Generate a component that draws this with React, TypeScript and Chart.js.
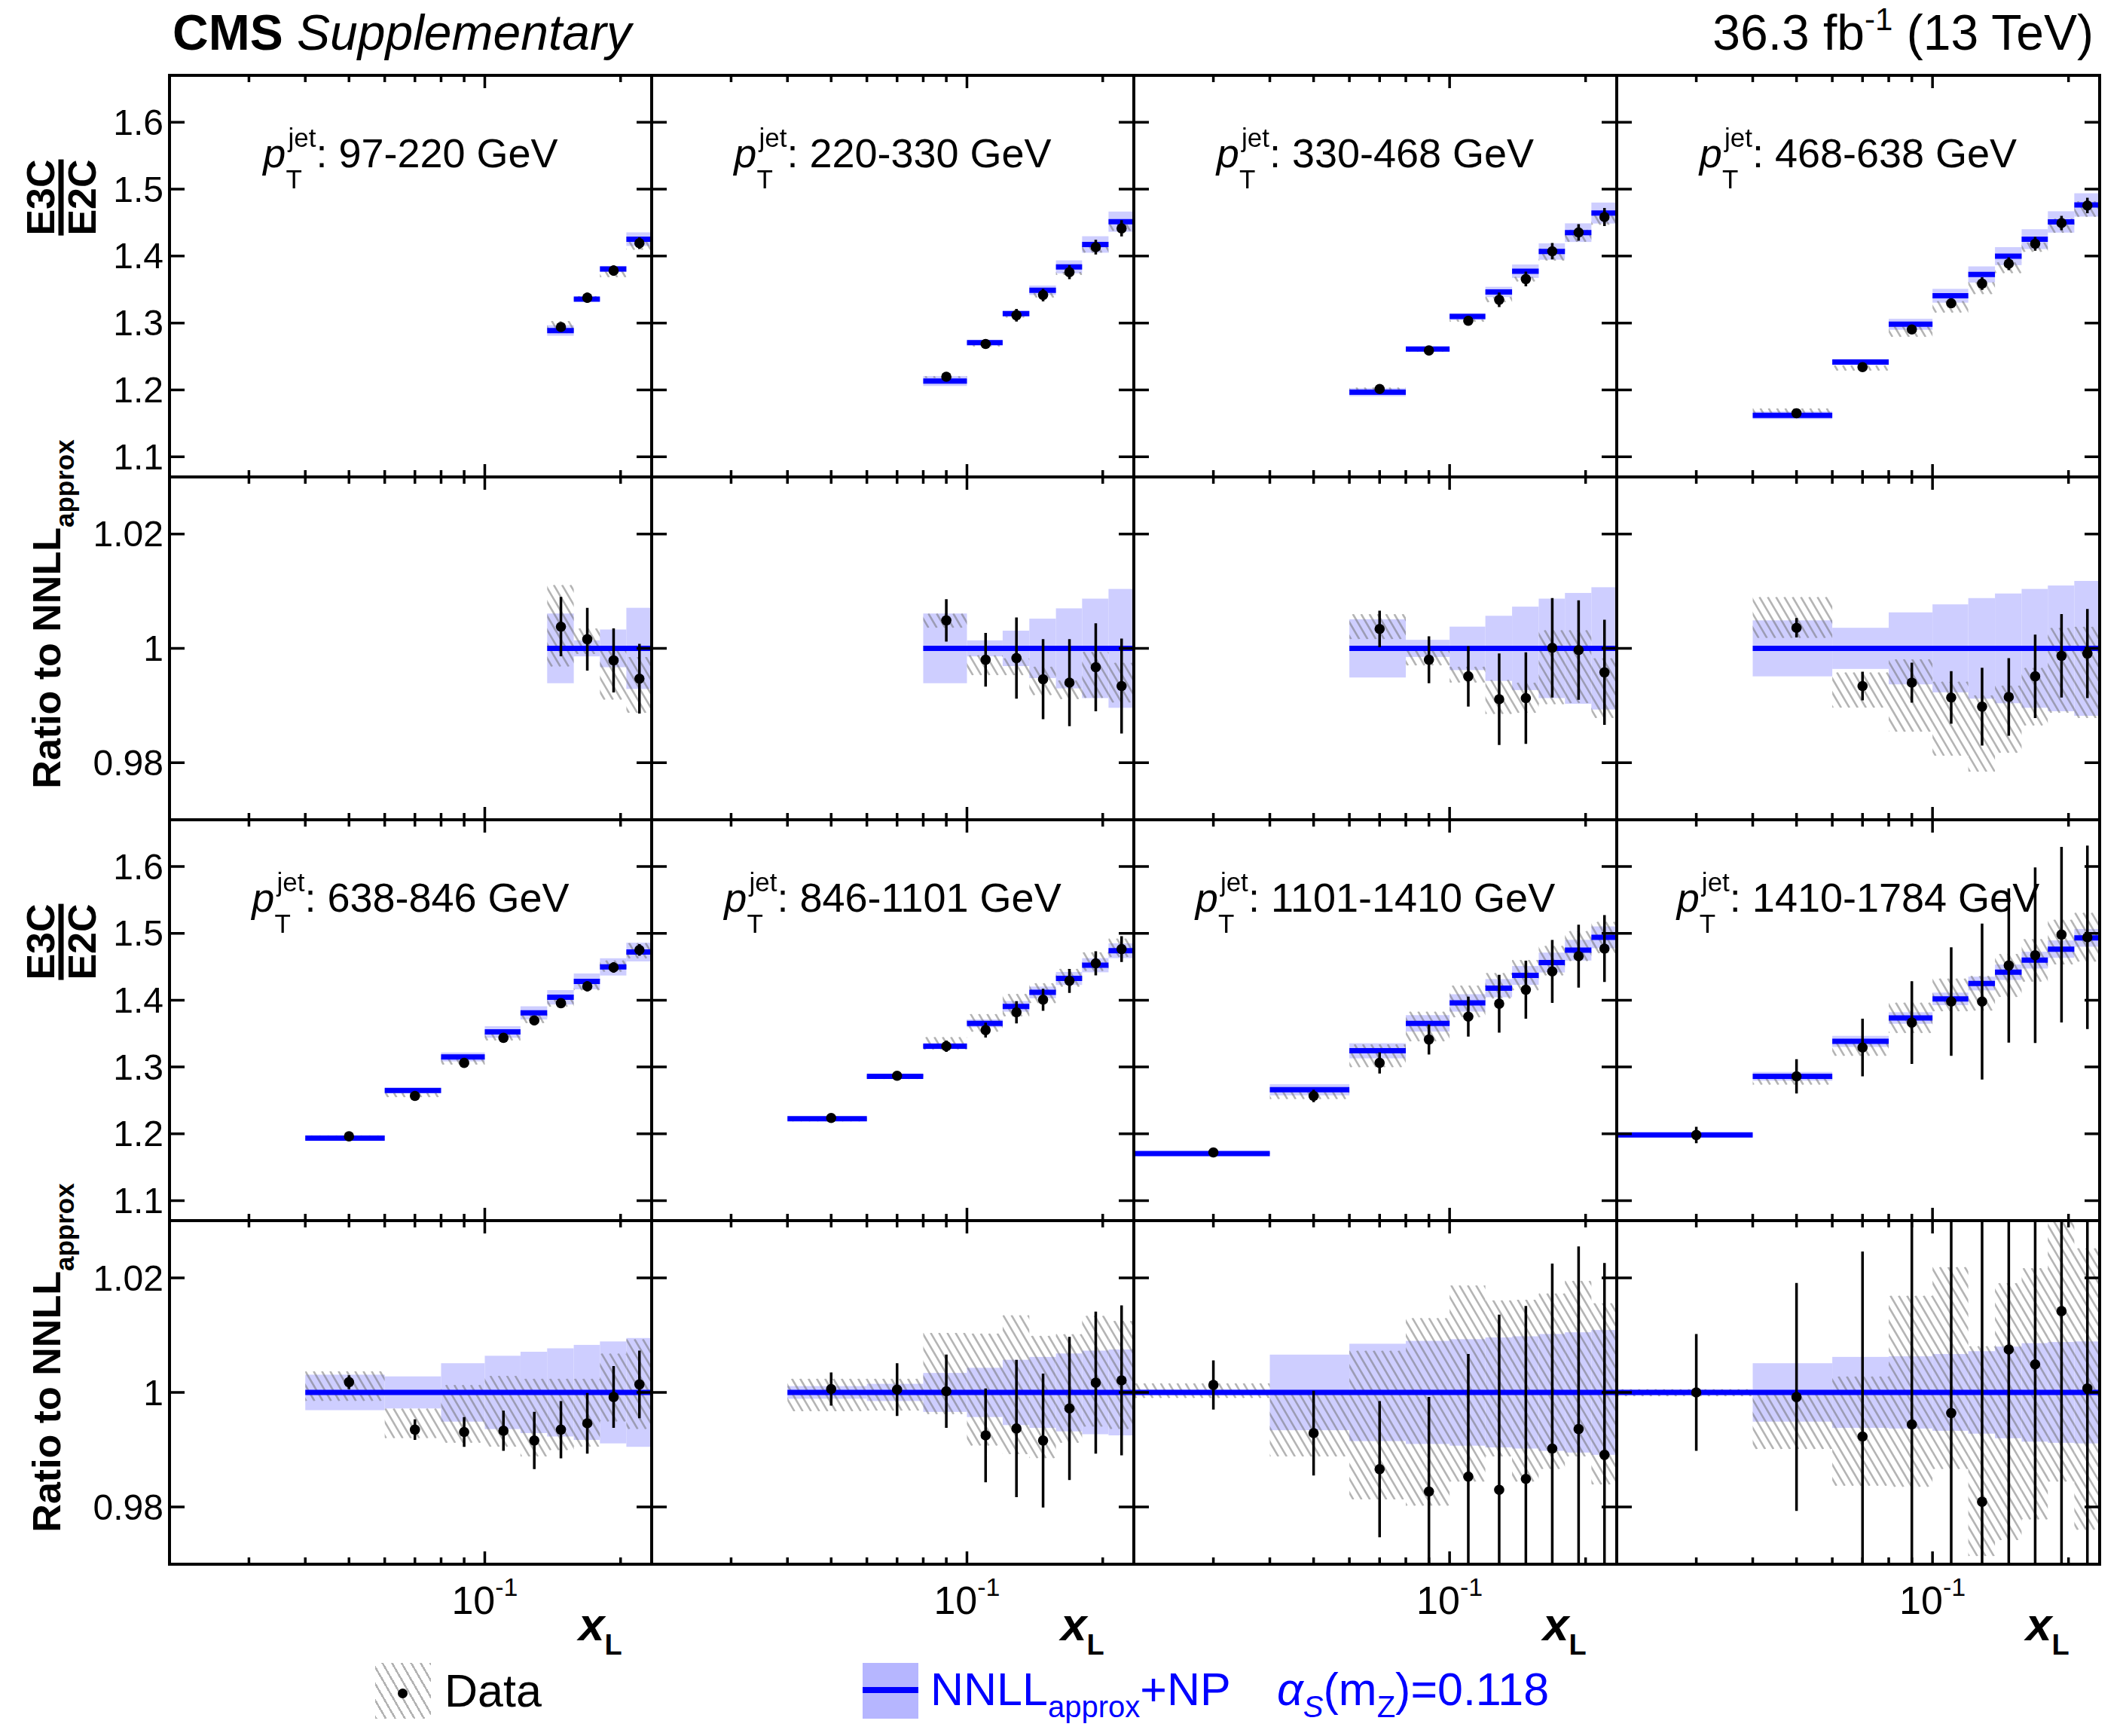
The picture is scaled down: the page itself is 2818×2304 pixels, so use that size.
import React, { useEffect, useRef } from "react";
import { Chart, registerables } from "chart.js";

Chart.register(...registerables);

// ---------------- data ----------------
const BIN_EDGES = [0.02, 0.04, 0.06, 0.08, 0.1, 0.12, 0.1375, 0.1575, 0.18, 0.206, 0.2344];
const X_RANGE = [0.02, 0.2344];
const X_MAJOR_TICKS = [0.1];
const X_MINOR_TICKS = [0.03, 0.04, 0.05, 0.06, 0.07, 0.08, 0.09, 0.2];
const MAIN_Y_TICKS = [1.1, 1.2, 1.3, 1.4, 1.5, 1.6];
const RATIO_Y_TICKS = [0.98, 1, 1.02];
const MAIN_Y_RANGE = [1.07, 1.67];
const RATIO_Y_RANGE = [0.97, 1.03];

const PT_BINS = ["97-220", "220-330", "330-468", "468-638", "638-846", "846-1101", "1101-1410", "1410-1784"];
// index of the first x_L bin that is filled in each pT panel
const FIRST_BIN = [6, 3, 2, 1, 1, 1, 0, 0];

// NNLL_approx+NP prediction (E3C/E2C)
const THEORY = [
  [1.2888, 1.3357, 1.3807, 1.4253],
  [1.2133, 1.2707, 1.3141, 1.349, 1.3839, 1.4173, 1.4514],
  [1.1966, 1.261, 1.3097, 1.3464, 1.3774, 1.4068, 1.435, 1.4643],
  [1.162, 1.2417, 1.2981, 1.3407, 1.3725, 1.3999, 1.4253, 1.451, 1.4764],
  [1.1934, 1.2647, 1.315, 1.3524, 1.381, 1.4043, 1.4281, 1.4498, 1.472],
  [1.2224, 1.286, 1.3311, 1.3653, 1.3907, 1.4116, 1.4325, 1.4523, 1.474],
  [1.1704, 1.2659, 1.3242, 1.3653, 1.3959, 1.418, 1.437, 1.4563, 1.4748, 1.4941],
  [1.1982, 1.286, 1.3383, 1.3733, 1.4019, 1.4249, 1.4418, 1.4599, 1.4764, 1.4933],
];
// relative theory uncertainty (half width of band, ratio units)
const THEORY_UNC = [
  [0.0061, 0.0014, 0.0033, 0.0071],
  [0.0061, 0.0014, 0.0031, 0.0052, 0.007, 0.0087, 0.0104],
  [0.0051, 0.0015, 0.0038, 0.0057, 0.0073, 0.0087, 0.0097, 0.0107],
  [0.0049, 0.0036, 0.0063, 0.0077, 0.0088, 0.0096, 0.0104, 0.011, 0.0118],
  [0.0031, 0.0028, 0.0051, 0.0064, 0.0071, 0.0077, 0.0083, 0.0089, 0.0095],
  [0.0011, 0.0015, 0.0034, 0.0043, 0.0057, 0.0062, 0.0068, 0.0073, 0.0075],
  [0.0005, 0.0066, 0.0085, 0.009, 0.0093, 0.0096, 0.0098, 0.0102, 0.0105, 0.0109],
  [0.0005, 0.0051, 0.0062, 0.0063, 0.0067, 0.0072, 0.008, 0.0086, 0.0088, 0.0089],
];
// measured E3C/E2C
const DATA = [
  [1.294, 1.3378, 1.3783, 1.4193],
  [1.2197, 1.2687, 1.3116, 1.3418, 1.3759, 1.4133, 1.4414],
  [1.2014, 1.259, 1.3033, 1.3347, 1.3657, 1.4072, 1.4353, 1.4583],
  [1.1652, 1.234, 1.2904, 1.3295, 1.3589, 1.3886, 1.4184, 1.4494, 1.4756],
  [1.1962, 1.2566, 1.3061, 1.3436, 1.3697, 1.3955, 1.4208, 1.449, 1.4752],
  [1.2236, 1.2868, 1.3311, 1.3552, 1.3818, 1.4007, 1.4289, 1.4551, 1.4764],
  [1.1721, 1.2566, 1.3061, 1.3411, 1.3754, 1.3947, 1.4156, 1.443, 1.4659, 1.4772],
  [1.1982, 1.286, 1.3291, 1.3665, 1.3979, 1.3979, 1.4519, 1.4672, 1.4981, 1.4941],
];
// data / theory
const RATIO = [
  [1.0038, 1.0016, 0.9979, 0.9947],
  [1.0049, 0.998, 0.9983, 0.9946, 0.994, 0.9967, 0.9934],
  [1.0034, 0.998, 0.9951, 0.9911, 0.9913, 1.0001, 0.9997, 0.9958],
  [1.0036, 0.9934, 0.994, 0.9914, 0.9898, 0.9915, 0.9951, 0.9987, 0.9991],
  [1.0018, 0.9935, 0.9931, 0.9933, 0.9916, 0.9935, 0.9946, 0.9992, 1.0014],
  [1.0006, 1.0005, 1.0002, 0.9925, 0.9937, 0.9916, 0.9972, 1.0017, 1.0021],
  [1.0013, 0.9929, 0.9866, 0.9827, 0.9853, 0.983, 0.9849, 0.9902, 0.9936, 0.9891],
  [1.0, 0.9992, 0.9923, 0.9944, 0.9964, 0.9809, 1.0075, 1.0049, 1.0142, 1.0007],
];
// statistical uncertainty (relative)
const STAT = [
  [0.0052, 0.0055, 0.0056, 0.0061],
  [0.0037, 0.0047, 0.0071, 0.007, 0.0076, 0.0077, 0.0083],
  [0.0032, 0.0041, 0.0053, 0.008, 0.008, 0.0087, 0.0087, 0.0092],
  [0.0017, 0.0025, 0.0035, 0.0046, 0.0068, 0.0068, 0.0073, 0.0073, 0.0078],
  [0.0012, 0.0018, 0.0026, 0.0035, 0.005, 0.005, 0.0053, 0.0054, 0.0059],
  [0.0029, 0.0046, 0.0064, 0.0082, 0.012, 0.0117, 0.0125, 0.0124, 0.0131],
  [0.0043, 0.0074, 0.0119, 0.0165, 0.0214, 0.0306, 0.0302, 0.0323, 0.0319, 0.0335],
  [0.0102, 0.0199, 0.0323, 0.045, 0.058, 0.082, 0.08, 0.09, 0.089, 0.092],
];
// systematic band of the data (lower / upper edge, ratio units)
const SYST_LO = [
  [0.9968, 0.999, 0.991, 0.9887],
  [1.0036, 0.9953, 0.9953, 0.9918, 0.9911, 0.9913, 0.9905],
  [1.0016, 0.997, 0.994, 0.9885, 0.9887, 0.9902, 0.9904, 0.9878],
  [1.0018, 0.9896, 0.9854, 0.9812, 0.9784, 0.9817, 0.9865, 0.9887, 0.9878],
  [0.9985, 0.992, 0.9912, 0.9905, 0.9888, 0.9899, 0.9905, 0.9949, 0.9936],
  [0.9967, 0.9968, 0.9962, 0.9907, 0.9892, 0.9885, 0.9912, 0.994, 0.9936],
  [0.999, 0.9888, 0.9813, 0.9802, 0.9844, 0.9888, 0.9844, 0.9866, 0.9888, 0.9839],
  [0.9993, 0.9901, 0.9837, 0.9835, 0.9866, 0.9714, 0.9742, 0.9778, 0.9844, 0.976],
];
const SYST_HI = [
  [1.0111, 1.0035, 1.0, 0.9985],
  [1.0061, 0.9988, 0.9983, 0.9968, 0.9944, 0.9994, 0.9975],
  [1.006, 0.9999, 0.9968, 0.9945, 0.994, 1.0032, 1.0032, 0.9983],
  [1.009, 0.9958, 0.9981, 0.9942, 0.9918, 0.9935, 0.9966, 1.0036, 1.0038],
  [1.0037, 0.9972, 1.0013, 1.0029, 1.0024, 1.0024, 1.0024, 1.0068, 1.0093],
  [1.0024, 1.0024, 1.0104, 1.0103, 1.0135, 1.0099, 1.0102, 1.0134, 1.0125],
  [1.0016, 1.0004, 1.0073, 1.013, 1.0187, 1.0161, 1.0162, 1.0173, 1.0195, 1.0156],
  [1.0006, 1.0, 1.0028, 1.0169, 1.0219, 1.0081, 1.0191, 1.0217, 1.03, 1.0252],
];

// ---------------- layout / style ----------------
const COLS = [225, 865, 1505, 2146, 2787];
const ROWS = [100, 633, 1088, 1620, 2076];
const PAD = 8;
const FONT = '"Liberation Sans", Arial, Helvetica, sans-serif';
const BLUE = "rgb(0,0,255)";
const BAND_COLOR = "rgb(206,206,255)";
const HATCH_COLOR = "rgba(105,105,105,0.5)";

type Kind = "main" | "ratio";

function hatchRect(ctx: CanvasRenderingContext2D, x0: number, y0: number, x1: number, y1: number) {
  const top = Math.min(y0, y1), bot = Math.max(y0, y1);
  ctx.save();
  ctx.beginPath();
  ctx.rect(x0, top, x1 - x0, bot - top);
  ctx.clip();
  ctx.strokeStyle = HATCH_COLOR;
  ctx.lineWidth = 2.6;
  const t = 1.7; // dy/dx of the hatch lines
  const s = 11;
  ctx.beginPath();
  const cStart = Math.floor((x0 - bot / t) / s) * s - s;
  const cEnd = x1 - top / t + s;
  for (let c = cStart; c <= cEnd; c += s) {
    ctx.moveTo(c + top / t, top);
    ctx.lineTo(c + bot / t, bot);
  }
  ctx.stroke();
  ctx.restore();
}

function makePlugin(p: number, kind: Kind) {
  const f = FIRST_BIN[p];
  return {
    id: "cmsPanel" + p + kind,
    beforeDatasetsDraw(chart: any) {
      const { ctx, chartArea: a, scales } = chart;
      const xs = scales.x, ys = scales.y;
      ctx.save();
      ctx.beginPath();
      ctx.rect(a.left, a.top, a.right - a.left, a.bottom - a.top);
      ctx.clip();
      THEORY[p].forEach((t, i) => {
        const sc = kind === "main" ? t : 1;
        const x0 = xs.getPixelForValue(BIN_EDGES[f + i]);
        const x1 = xs.getPixelForValue(BIN_EDGES[f + i + 1]);
        const u = THEORY_UNC[p][i];
        const yt = ys.getPixelForValue(sc * (1 + u));
        const yb = ys.getPixelForValue(sc * (1 - u));
        ctx.fillStyle = BAND_COLOR;
        ctx.fillRect(x0, yt, x1 - x0, yb - yt);
      });
      THEORY[p].forEach((t, i) => {
        const sc = kind === "main" ? t : 1;
        const x0 = xs.getPixelForValue(BIN_EDGES[f + i]);
        const x1 = xs.getPixelForValue(BIN_EDGES[f + i + 1]);
        hatchRect(ctx, x0, ys.getPixelForValue(sc * SYST_HI[p][i]), x1, ys.getPixelForValue(sc * SYST_LO[p][i]));
      });
      ctx.restore();
    },
    afterDatasetsDraw(chart: any) {
      const { ctx, chartArea: a, scales } = chart;
      const xs = scales.x, ys = scales.y;
      ctx.save();
      ctx.strokeStyle = "#000";
      ctx.lineWidth = 3.5;
      ctx.beginPath();
      X_MAJOR_TICKS.forEach((v) => {
        const px = xs.getPixelForValue(v);
        ctx.moveTo(px, a.bottom); ctx.lineTo(px, a.bottom - 17);
        ctx.moveTo(px, a.top); ctx.lineTo(px, a.top + 17);
      });
      X_MINOR_TICKS.forEach((v) => {
        const px = xs.getPixelForValue(v);
        ctx.moveTo(px, a.bottom); ctx.lineTo(px, a.bottom - 9);
        ctx.moveTo(px, a.top); ctx.lineTo(px, a.top + 9);
      });
      (kind === "main" ? MAIN_Y_TICKS : RATIO_Y_TICKS).forEach((v) => {
        const py = ys.getPixelForValue(v);
        ctx.moveTo(a.left, py); ctx.lineTo(a.left + 20, py);
        ctx.moveTo(a.right, py); ctx.lineTo(a.right - 20, py);
      });
      ctx.stroke();
      ctx.lineWidth = 4;
      ctx.strokeRect(a.left, a.top, a.right - a.left, a.bottom - a.top);
      ctx.restore();
    },
  };
}

function buildConfig(p: number, kind: Kind): any {
  const f = FIRST_BIN[p];
  const main = kind === "main";
  const lo = (i: number) => BIN_EDGES[f + i];
  const hi = (i: number) => BIN_EDGES[f + i + 1];
  const mid = (i: number) => (lo(i) + hi(i)) / 2;
  const vals = main ? DATA[p] : RATIO[p];
  const lineData: any[] = [];
  const errData: any[] = [];
  const ptData: any[] = [];
  THEORY[p].forEach((t, i) => {
    const yl = main ? t : 1;
    lineData.push({ x: lo(i), y: yl }, { x: hi(i), y: yl }, { x: hi(i), y: null });
    const e = STAT[p][i] * (main ? t : 1);
    errData.push({ x: mid(i), y: vals[i] - e }, { x: mid(i), y: vals[i] + e }, { x: mid(i), y: null });
    ptData.push({ x: mid(i), y: vals[i] });
  });
  const yr = main ? MAIN_Y_RANGE : RATIO_Y_RANGE;
  return {
    type: "scatter",
    data: {
      datasets: [
        { data: ptData, pointRadius: 6.8, backgroundColor: "#000", pointBackgroundColor: "#000", pointBorderWidth: 0, borderWidth: 0, order: 1, clip: 0 },
        { data: errData, showLine: true, borderColor: "#000", borderWidth: 3.5, pointRadius: 0, spanGaps: false, borderCapStyle: "butt", order: 2, clip: 0 },
        { data: lineData, showLine: true, borderColor: BLUE, borderWidth: 7, pointRadius: 0, spanGaps: false, borderCapStyle: "butt", order: 3, clip: 0 },
      ],
    },
    options: {
      animation: false,
      responsive: false,
      maintainAspectRatio: false,
      devicePixelRatio: 1,
      events: [],
      layout: { padding: PAD },
      plugins: { legend: { display: false }, tooltip: { enabled: false } },
      scales: {
        x: { type: "logarithmic", min: X_RANGE[0], max: X_RANGE[1], display: false },
        y: { type: "linear", min: yr[0], max: yr[1], display: false },
      },
    },
    plugins: [makePlugin(p, kind)],
  };
}

function Panel({ p, kind }: { p: number; kind: Kind }) {
  const ref = useRef<HTMLCanvasElement>(null);
  const col = p % 4;
  const row = Math.floor(p / 4) * 2 + (kind === "main" ? 0 : 1);
  const x0 = COLS[col], x1 = COLS[col + 1];
  const y0 = ROWS[row], y1 = ROWS[row + 1];
  const w = x1 - x0 + 2 * PAD, h = y1 - y0 + 2 * PAD;
  useEffect(() => {
    const chart = new Chart(ref.current as HTMLCanvasElement, buildConfig(p, kind));
    return () => chart.destroy();
  }, [p, kind]);
  return (
    <canvas
      ref={ref}
      width={w}
      height={h}
      style={{ position: "absolute", left: x0 - PAD, top: y0 - PAD, width: w, height: h }}
    />
  );
}

// text whose baseline sits at `base`
function Txt({ x, base, size, align = "left", style = {}, children }: any) {
  const tx = align === "center" ? "translateX(-50%)" : align === "right" ? "translateX(-100%)" : "none";
  return (
    <div
      style={{
        position: "absolute",
        left: x,
        top: base - 0.8465 * size,
        fontSize: size,
        lineHeight: `${size}px`,
        whiteSpace: "nowrap",
        transform: tx,
        ...style,
      }}
    >
      {children}
    </div>
  );
}

function Sub({ size, shift, style = {}, children }: any) {
  return <span style={{ fontSize: size, verticalAlign: `${shift}px`, lineHeight: 0, ...style }}>{children}</span>;
}

function PtLabel({ p }: { p: number }) {
  const col = p % 4;
  const x0 = COLS[col], x1 = COLS[col + 1];
  const base = ROWS[Math.floor(p / 4) * 2] + 122;
  const F = 54;
  return (
    <div
      style={{
        position: "absolute",
        left: x0,
        width: x1 - x0,
        top: base - 0.8465 * F,
        fontSize: F,
        lineHeight: `${F}px`,
        textAlign: "center",
        whiteSpace: "nowrap",
      }}
    >
      <span style={{ fontStyle: "italic" }}>p</span>
      <span style={{ display: "inline-block", position: "relative", width: 40, height: 0 }}>
        <span style={{ position: "absolute", left: 3, bottom: 22.6, fontSize: 35, lineHeight: "35px" }}>jet</span>
        <span style={{ position: "absolute", left: 0, bottom: -32.4, fontSize: 35, lineHeight: "35px" }}>T</span>
      </span>
      {`: ${PT_BINS[p]} GeV`}
    </div>
  );
}

function yPix(v: number, row: number, range: number[]) {
  const top = ROWS[row], bot = ROWS[row + 1];
  return top + ((range[1] - v) / (range[1] - range[0])) * (bot - top);
}

function xPix(v: number, col: number) {
  const l = COLS[col], r = COLS[col + 1];
  return l + (Math.log10(v / X_RANGE[0]) / Math.log10(X_RANGE[1] / X_RANGE[0])) * (r - l);
}

export default function App() {
  const panels: any[] = [];
  for (let p = 0; p < 8; p++) {
    panels.push(<Panel key={"m" + p} p={p} kind="main" />);
    panels.push(<Panel key={"r" + p} p={p} kind="ratio" />);
  }
  const yLabels: any[] = [];
  [0, 2].forEach((row) => {
    MAIN_Y_TICKS.forEach((v) => {
      yLabels.push(
        <Txt key={`ym${row}-${v}`} x={217} base={yPix(v, row, MAIN_Y_RANGE) + 0.358 * 48} size={48} align="right">
          {String(v)}
        </Txt>
      );
    });
    RATIO_Y_TICKS.forEach((v) => {
      yLabels.push(
        <Txt key={`yr${row}-${v}`} x={217} base={yPix(v, row + 1, RATIO_Y_RANGE) + 0.358 * 48} size={48} align="right">
          {String(v)}
        </Txt>
      );
    });
  });
  const xLabels: any[] = [];
  for (let c = 0; c < 4; c++) {
    xLabels.push(
      <Txt key={"xt" + c} x={xPix(X_MAJOR_TICKS[0], c)} base={2142} size={52} align="center">
        10<Sub size={34} shift={24}>-1</Sub>
      </Txt>
    );
    xLabels.push(
      <Txt key={"xl" + c} x={COLS[c] + 543} base={2177} size={62} style={{ fontWeight: "bold", fontStyle: "italic" }}>
        x<Sub size={38} shift={-19} style={{ fontStyle: "normal" }}>L</Sub>
      </Txt>
    );
  }
  const titles: any[] = [];
  [0, 2].forEach((row) => {
    titles.push(
      <div
        key={"ft" + row}
        style={{
          position: "absolute",
          left: 80.5,
          top: ROWS[row] + 162,
          transform: "translate(-50%,-50%) rotate(-90deg)",
          fontWeight: "bold",
          fontSize: 52,
          lineHeight: "40px",
          textAlign: "center",
          whiteSpace: "nowrap",
        }}
      >
        <div>E3C</div>
        <div style={{ height: 7, background: "#000", margin: "4px 0" }} />
        <div>E2C</div>
      </div>
    );
    titles.push(
      <div
        key={"rt" + row}
        style={{
          position: "absolute",
          left: 62,
          top: ROWS[row + 1] + 182,
          transform: "translate(-50%,-50%) rotate(-90deg)",
          fontWeight: "bold",
          fontSize: 52,
          lineHeight: "52px",
          whiteSpace: "nowrap",
        }}
      >
        Ratio to NNLL<Sub size={35} shift={-18}>approx</Sub>
      </div>
    );
  });

  return (
    <div
      style={{
        position: "absolute",
        left: 0,
        top: 0,
        width: 2818,
        height: 2304,
        background: "#fff",
        fontFamily: FONT,
        color: "#000",
        overflow: "hidden",
      }}
    >
      {panels}
      {PT_BINS.map((_, p) => (
        <PtLabel key={"pt" + p} p={p} />
      ))}
      {yLabels}
      {xLabels}
      {titles}
      <Txt x={229} base={66} size={66}>
        <span style={{ fontWeight: "bold" }}>CMS</span> <span style={{ fontStyle: "italic" }}>Supplementary</span>
      </Txt>
      <Txt x={2779} base={66} size={66} align="right">
        36.3 fb<Sub size={42} shift={26}>-1</Sub> (13 TeV)
      </Txt>
      {/* legend */}
      <div
        style={{
          position: "absolute",
          left: 498,
          top: 2207,
          width: 74,
          height: 74,
          background: "repeating-linear-gradient(60deg, rgba(165,165,165,0.85) 0px, rgba(165,165,165,0.85) 2.5px, transparent 2.5px, transparent 11px)",
        }}
      />
      <div style={{ position: "absolute", left: 528, top: 2241, width: 13, height: 13, borderRadius: "50%", background: "#000" }} />
      <Txt x={590} base={2266} size={61}>
        Data
      </Txt>
      <div style={{ position: "absolute", left: 1145, top: 2207, width: 74, height: 74, background: "rgb(182,182,255)" }} />
      <div style={{ position: "absolute", left: 1145, top: 2239, width: 74, height: 8, background: BLUE }} />
      <Txt x={1235} base={2264} size={61} style={{ color: BLUE }}>
        NNLL<Sub size={40} shift={-16}>approx</Sub>+NP
      </Txt>
      <Txt x={1695} base={2264} size={61} style={{ color: BLUE }}>
        <span style={{ fontStyle: "italic" }}>α</span>
        <Sub size={40} shift={-16} style={{ fontStyle: "italic" }}>S</Sub>(m<Sub size={40} shift={-16}>Z</Sub>)=0.118
      </Txt>
    </div>
  );
}
